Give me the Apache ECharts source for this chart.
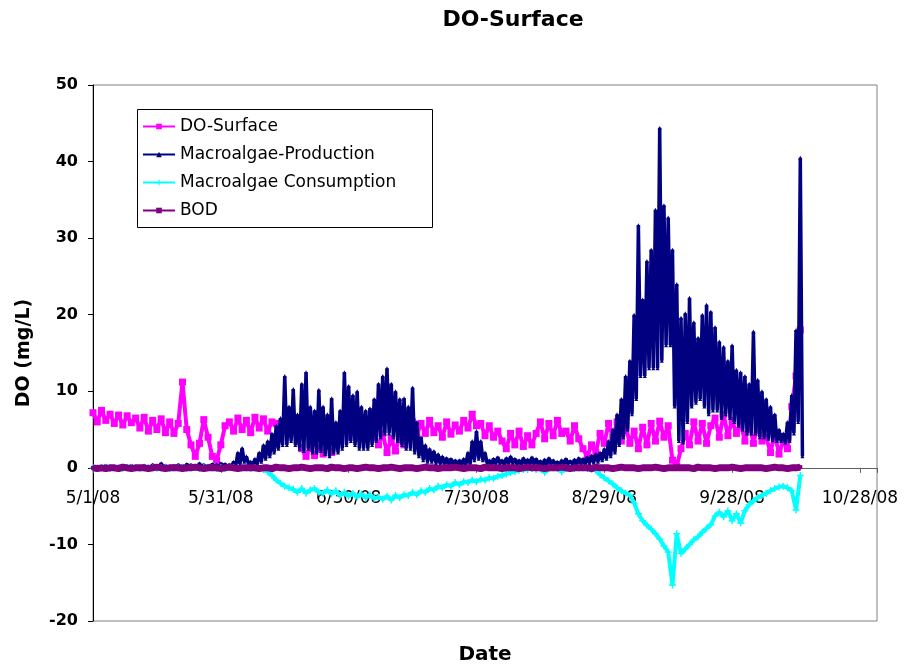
<!DOCTYPE html>
<html><head><meta charset="utf-8">
<script src="https://cdn.jsdelivr.net/npm/echarts@6/dist/echarts.min.js"></script>
<style>html,body{margin:0;padding:0;background:#fff}#c{width:907px;height:668px}</style>
</head><body><div id="c"></div>
<script>
// Sampling: days after 5/1/08
const startDateUTC = Date.UTC(2008, 4, 1);
const seriesNames = ['DO-Surface', 'Macroalgae-Production', 'Macroalgae Consumption', 'BOD'];
const yTicks = [-20, -10, 0, 10, 20, 30, 40, 50];

// DO-Surface, one reading per day
const doSurface = [
  7.2,6.0,7.5,6.2,7.0,5.8,6.9,5.6,6.8,5.9,
  6.5,5.2,6.6,4.8,6.2,5.0,6.4,4.6,6.0,4.5,5.8,
  11.2,
  5.0,3.0,1.5,3.2,6.3,4.0,1.5,1.0,3.0,5.5,
  6.0,4.8,6.5,5.0,6.2,4.6,6.6,5.2,6.4,4.8,6.0,
  5.8,4.2,6.0,4.5,5.0,3.5,
  2.5,1.5,2.8,1.6,2.6,1.8,3.0,2.0,3.2,
  5.0,6.5,4.0,6.0,3.8,6.6,4.2,6.2,4.0,
  3.0,4.5,2.0,3.8,2.2,4.2,3.0,
  5.0,6.0,4.2,5.8,4.5,6.2,4.6,
  5.5,4.0,6.0,4.4,5.6,4.8,
  6.2,5.2,7.0,5.5,
  5.8,4.2,5.5,4.0,4.8,
  3.5,2.5,4.5,3.0,4.8,2.8,4.2,3.0,
  4.5,6.0,3.8,5.8,4.2,6.2,4.5,
  4.8,3.5,5.5,3.8,2.5,1.5,3.0,2.0,4.5,3.2,5.8,4.0,
  6.0,3.5,5.5,3.2,
  4.8,2.5,5.3,3.0,
  5.8,3.5,6.1,4.0,5.5,
  1.0,0.2,2.5,
  4.5,3.0,6.0,3.5,5.8,3.2,5.5,
  6.5,4.0,7.0,4.2,6.2,
  4.5,5.8,3.5,6.0,3.2,5.5,3.5,
  4.0,2.0,4.5,1.8,3.5,2.5,
  8.0,12.0,18.0
];

// Macroalgae-Production, two readings per day (day high, night low)
const macroProduction = [
  0.1,0,0.2,0,0.1,0,0.3,0.1,0.2,0,0.1,0,0.2,0,0.1,0,0.2,0.1,0.3,0,
  0.2,0,0.1,0,0.3,0.1,0.2,0,0.4,0.1,0.2,0,0.6,0.1,0.3,0,0.2,0.1,0.3,0,
  0.4,0.1,0.3,0,0.5,0.1,0.4,0,0.3,0.1,0.6,0.1,0.4,0,0.3,0.1,0.5,0.1,0.4,0.1,0.6,0.2,0.5,0.1,0.4,0.1,
  0.8,0.2,2.0,0.5,2.6,0.8,1.5,0.5,0.8,0.3,1.2,0.4,2.0,0.8,3.0,1.2,3.5,1.5,4.5,2.0,5.5,2.5,6.5,3.0,
  12.0,3.0,8.0,3.5,10.3,3.0,7.0,2.5,11.0,2.2,12.5,2.5,8.0,2.0,7.5,2.0,10.2,2.2,8.0,1.8,7.0,1.5,9.1,2.0,6.0,2.0,7.5,2.5,
  12.5,3.0,10.7,3.5,9.5,3.0,10.0,2.5,8.0,2.5,7.5,2.5,7.8,3.0,9.0,3.5,11.0,4.0,12.0,4.5,13.0,4.5,11.0,4.0,10.0,3.5,9.0,3.0,9.1,2.5,8.0,2.5,10.5,2.0,
  6.0,1.5,4.0,1.0,3.0,0.8,2.5,0.8,2.2,0.6,1.8,0.5,1.5,0.5,1.3,0.4,1.2,0.4,1.0,0.3,1.0,0.3,1.2,0.4,2.0,0.5,3.5,1.0,4.8,1.2,3.5,1.0,2.0,0.6,1.0,0.4,
  1.2,0.5,1.4,0.6,1.0,0.4,1.3,0.5,1.5,0.6,1.2,0.5,1.0,0.4,1.3,0.5,1.1,0.4,1.4,0.5,
  1.2,0.4,0.9,0.3,1.1,0.4,1.3,0.5,1.0,0.4,0.8,0.3,1.0,0.4,1.2,0.5,0.9,0.3,1.1,0.4,
  1.3,0.5,1.2,0.5,1.4,0.6,1.6,0.7,1.8,0.8,2.0,1.0,
  2.5,1.2,3.5,1.5,5.0,2.0,7.0,3.0,9.0,4.0,12.0,5.0,14.0,7.0,20.0,9.0,31.7,12.0,22.0,12.0,
  27.0,13.0,28.5,13.0,33.7,13.0,44.4,14.0,34.3,16.0,32.7,16.0,28.5,8.0,24.0,3.5,19.6,3.3,
  20.2,6.0,22.2,8.0,19.0,8.5,17.0,9.0,20.0,8.0,21.3,7.0,20.4,7.5,18.4,7.5,16.5,6.5,15.8,7.0,
  14.0,6.5,16.0,6.0,12.8,5.5,12.5,5.0,12.0,4.5,11.0,4.5,17.8,4.5,11.5,4.0,10.0,4.0,9.0,3.8,
  8.0,3.6,7.0,3.5,5.0,3.5,4.5,3.3,6.0,3.5,9.5,4.5,18.0,6.0,40.5,1.5
];

// Macroalgae Consumption, one reading per day
const macroConsumption = [
  0,-0.1,0,0,-0.1,0,0,-0.1,0,0, 0,-0.1,0,0,0,-0.1,0,0,-0.1,0,
  0,0,-0.1,0,0,-0.1,0,0,0,-0.1, 0,-0.1,0,0,-0.1,0,0,-0.1,0,-0.1,
  -0.2,-0.5,-1.0,-1.6,-2.0,-2.4,-2.6,
  -2.8,-3.2,-2.7,-3.3,-2.9,-2.7,-3.2,-3.3,-2.9,
  -3.4,-3.0,-3.6,-3.2,-3.7,-3.3,-3.8,-3.4,-3.9,-3.5,-4.0,-3.8,-4.1,-3.7,-4.2,
  -3.6,-3.9,-3.5,-3.6,-3.2,-3.5,-3.0,-3.2,
  -2.7,-2.9,-2.4,-2.6,-2.2,-2.4,-1.9,
  -2.2,-1.8,-1.9,-1.6,-1.8,-1.5,-1.6,-1.3,-1.4,-1.1,
  -1.0,-0.8,-0.6,-0.5,
  -0.3,-0.2,-0.2,-0.1,-0.2,-0.1,-0.6,-0.1,0,-0.1,-0.5,-0.1,0,-0.1,0,0,-0.1,-0.2,-0.3,
  -0.9,-1.3,-1.7,-2.1,-2.6,-3.0,-3.3,-3.6,-4.6,-6.0,-6.9,-7.5,-8.0,-8.6,-9.3,-10.2,-11.0,-15.3,-8.6,-11.2,
  -10.6,-10.0,-9.4,-9.0,-8.4,-7.9,-7.4,-6.3,-5.8,-6.4,-5.6,-6.9,-6.0,-7.2,-5.6,-4.8,-4.3,-3.9,-3.6,-3.3,
  -3.0,-2.7,-2.5,-2.4,-2.6,-3.0,-5.5,-1.0
];

// BOD, one reading per day
const bod = [
  0,-0.1,0,-0.1,0,0,-0.1,0.1,0,-0.1, 0,0,0,-0.1,0,0.1,0,-0.1,0,0,
  0,-0.1,0,0,0.1,0,-0.1,0,0,0, -0.1,0,0.1,0,-0.1,0,0,0,0,-0.1,
  0,0,-0.1,0.1,0,0,-0.1,0,0,0.1, 0,-0.1,0,0,0,-0.1,0.1,0,0,-0.1,
  0,0,-0.1,0,0.1,0,0,-0.1,0,0, 0.1,0,-0.1,0,0,0,-0.1,0,0.1,0,
  0,-0.1,0,0,0,0.1,0,-0.1,0,0, 0,-0.1,0.1,0,0,0,-0.1,0,0,0,
  -0.1,0,0.1,0,0,0,-0.1,0,0,0, 0.1,0,-0.1,0,0,0,0,-0.1,0.1,0,
  0,0,-0.1,0,0.1,0,0,0,-0.1,0, 0,0,0.1,0,-0.1,0,0,0,0,0,
  0,-0.1,0.1,0,0,0,-0.1,0,0,0, 0.1,0,-0.1,0,0,0,0,0,-0.1,0,
  0.1,0,0,-0.1,0,0,0.1
];

function pairs(values, stepDays) {
  return values.map((v, i) => [i * stepDays, v]);
}
function fmtDate(days) {
  const d = new Date(startDateUTC + days * 86400000);
  return (d.getUTCMonth() + 1) + '/' + d.getUTCDate() + '/' + String(d.getUTCFullYear()).slice(2);
}

const gridTop = 85, gridBottom = 47, H = 668;
const gridH = H - gridTop - gridBottom;
const yMin = yTicks[0], yMax = yTicks[yTicks.length - 1];
const zeroOffset = -gridH * (0 - yMin) / (yMax - yMin);

const chart = echarts.init(document.getElementById('c'), null, { renderer: 'canvas' });
const font = 'DejaVu Sans';
chart.setOption({
  animation: false,
  backgroundColor: '#fff',
  grid: { left: 93, right: 30, top: gridTop, bottom: gridBottom, show: true, borderColor: '#808080', borderWidth: 1 },
  legend: {
    orient: 'vertical', left: 142, top: 110,
    itemWidth: 32, itemHeight: 7, itemGap: 11,
    padding: [8, 5, 7, 0],
    textStyle: { fontFamily: font, fontSize: 17, color: '#000' },
    data: seriesNames
  },
  graphic: [
    { type: 'rect', shape: { x: 137.5, y: 109.5, width: 295, height: 118 }, style: { fill: '#fff', stroke: '#000', lineWidth: 1 }, z: 0 },
    { type: 'text', x: 513, y: 9, style: { text: 'DO-Surface', fontFamily: font, fontWeight: 'bold', fontSize: 22, fill: '#000', align: 'center' } },
    { type: 'text', x: 485, y: 645, style: { text: 'Date', fontFamily: font, fontWeight: 'bold', fontSize: 20, fill: '#000', align: 'center' } }
  ],
  xAxis: {
    type: 'value', min: 0, max: 184, interval: 30,
    position: 'bottom', offset: zeroOffset,
    axisLine: { onZero: false, lineStyle: { color: '#606060', width: 1 } },
    axisTick: { show: true, length: 5, lineStyle: { color: '#606060' } },
    splitLine: { show: false },
    axisLabel: {
      margin: 22, fontFamily: font, fontSize: 17, color: '#000',
      formatter: v => (v % 30 === 0 ? fmtDate(v) : '')
    }
  },
  yAxis: {
    type: 'value', min: yMin, max: yMax, interval: 10,
    name: 'DO (mg/L)', nameLocation: 'middle', nameGap: 59,
    nameTextStyle: { fontFamily: font, fontWeight: 'bold', fontSize: 19, color: '#000' },
    axisLine: { show: true, lineStyle: { color: '#000', width: 1 } },
    axisTick: { show: true, length: 5, lineStyle: { color: '#000' } },
    splitLine: { show: false },
    axisLabel: { margin: 15, fontFamily: font, fontWeight: 'bold', fontSize: 16, color: '#000' }
  },
  series: [
    { name: seriesNames[0], type: 'line', data: pairs(doSurface, 1), color: '#FF00FF',
      symbol: 'rect', symbolSize: 7, lineStyle: { width: 4 }, z: 2 },
    { name: seriesNames[1], type: 'line', data: pairs(macroProduction, 0.5), color: '#000080',
      symbol: 'triangle', symbolSize: 4, lineStyle: { width: 3.5 }, z: 3 },
    { name: seriesNames[2], type: 'line', data: pairs(macroConsumption, 1), color: '#00FFFF',
      symbol: 'path://M4,0H6V4H10V6H6V10H4V6H0V4H4Z', symbolSize: 7, lineStyle: { width: 4 }, z: 4 },
    { name: seriesNames[3], type: 'line', data: pairs(bod, 1), color: '#800080',
      symbol: 'rect', symbolSize: 4, lineStyle: { width: 7 }, z: 5 }
  ]
});
</script>
</body></html>
